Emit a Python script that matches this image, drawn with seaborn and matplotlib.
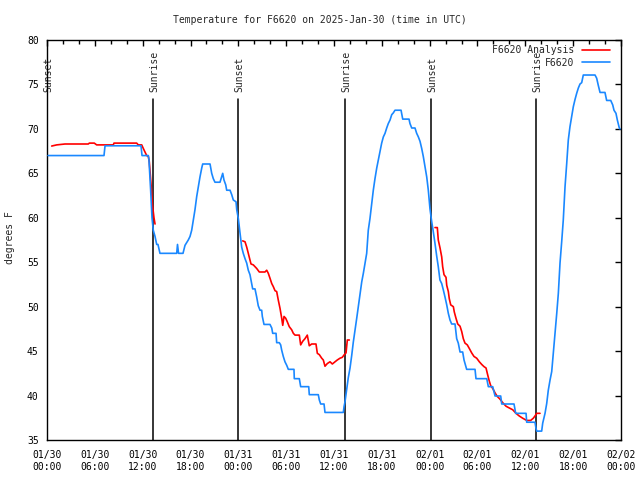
import numpy as np
import pandas as pd
import matplotlib
matplotlib.use("Agg")
import matplotlib.pyplot as plt
from matplotlib.lines import Line2D
from matplotlib.ticker import MultipleLocator
import seaborn as sns

# ---------------- data (hours since 2025-01-30 00:00 UTC, degrees F) ----------------
obs_hours = [0.13, 7.15, 7.28, 11.79, 11.92, 12.71, 12.79, 13.0, 13.17, 13.33, 13.55, 13.76,
             13.92, 14.17, 16.27, 16.37, 16.5, 17.06, 17.31, 17.72, 17.94, 18.15, 18.35, 18.56,
             18.78, 18.98, 19.19, 19.41, 19.53, 20.45, 20.66, 20.86, 21.07, 21.70, 21.91, 22.04,
             22.20, 22.42, 22.54, 22.96, 23.17, 23.37, 23.71, 23.80, 24.0, 24.21, 24.42, 24.62,
             24.84, 25.05, 25.25, 25.46, 25.68, 25.80, 26.09, 26.30, 26.50, 26.72, 26.93, 27.01,
             27.22, 27.97, 28.19, 28.31, 28.73, 28.81, 29.14, 29.31, 29.44, 29.64, 29.85, 30.07,
             30.27, 30.98, 31.02, 31.65, 31.82, 32.83, 32.90, 34.03, 34.16, 34.33, 34.75, 34.87,
             37.17, 37.26, 37.38, 37.59, 37.79, 38.01, 38.22, 38.42, 38.63, 38.85, 39.05, 39.26,
             39.48, 39.68, 39.89, 40.10, 40.30, 40.51, 40.73, 40.93, 41.14, 41.36, 41.56, 41.77,
             41.98, 42.19, 42.40, 42.61, 42.81, 43.03, 43.24, 43.44, 43.65, 44.41, 44.62, 45.41,
             45.53, 45.75, 46.16, 46.37, 46.58, 46.79, 47.00, 47.20, 47.42, 47.63, 47.83, 48.04,
             48.25, 48.46, 48.67, 48.88, 49.08, 49.29, 49.51, 49.71, 49.92, 50.14, 50.34, 50.55,
             50.76, 51.18, 51.39, 51.59, 51.81, 52.14, 52.31, 52.64, 53.69, 53.81, 55.16, 55.36,
             55.91, 56.07, 56.20, 56.91, 57.04, 58.58, 58.79, 60.09, 60.17, 61.21, 61.34, 61.43,
             62.05, 62.18, 62.47, 62.68, 62.88, 63.10, 63.31, 63.51, 63.72, 63.94, 64.14, 64.35,
             64.56, 64.76, 64.98, 65.19, 65.39, 65.60, 65.82, 66.02, 66.23, 66.44, 66.65, 66.86,
             67.07, 67.27, 68.74, 68.95, 69.15, 69.37, 69.99, 70.20, 70.71, 70.96, 71.12, 71.37,
             71.54, 71.79, 71.88]
obs_temps = [67.0, 67.0, 68.1, 68.1, 67.0, 67.0, 66.5, 63.1, 60.0, 58.6, 57.9, 57.0,
             57.0, 56.0, 56.0, 57.0, 56.0, 56.0, 56.9, 57.5, 57.9, 58.6, 59.75, 60.9,
             62.4, 63.5, 64.6, 65.6, 66.05, 66.05, 65.0, 64.4, 64.0, 64.0, 64.6, 65.0,
             64.25, 63.7, 63.1, 63.1, 62.6, 62.0, 61.8, 60.9, 59.9, 58.3, 56.7, 56.0,
             55.4, 54.9, 54.1, 53.6, 52.6, 52.0, 52.0, 51.1, 50.1, 49.6, 49.6, 48.9,
             48.0, 48.0, 47.6, 47.0, 47.0, 45.95, 45.95, 45.7, 45.1, 44.4, 43.8, 43.4,
             42.95, 42.95, 41.9, 41.9, 41.0, 41.0, 40.1, 40.1, 39.5, 39.05, 39.05, 38.1,
             38.1, 38.75, 39.3, 40.7, 42.0, 43.1, 44.5, 46.0, 47.3, 48.7, 50.0, 51.3,
             52.8, 53.75, 54.9, 56.0, 58.6, 59.9, 61.6, 63.1, 64.4, 65.6, 66.5, 67.4,
             68.4, 69.1, 69.5, 70.1, 70.6, 71.0, 71.6, 71.8, 72.1, 72.1, 71.1, 71.1,
             70.6, 70.1, 70.1, 69.5, 69.1, 68.6, 67.8, 66.9, 65.75, 64.6, 63.1, 61.0,
             59.6, 58.4, 57.1, 55.7, 54.5, 53.0, 52.6, 51.9, 51.1, 50.2, 49.25, 48.5,
             48.05, 48.05, 46.4, 45.9, 44.9, 44.9, 44.0, 42.95, 42.95, 41.9, 41.9, 41.0,
             41.0, 40.4, 39.95, 39.95, 39.05, 39.05, 38.0, 38.0, 37.0, 37.0, 36.3, 36.0,
             36.0, 36.9, 38.0, 39.1, 40.6, 41.75, 42.7, 44.75, 47.0, 49.25, 51.5, 54.9,
             57.3, 59.75, 63.5, 66.1, 68.75, 70.25, 71.4, 72.5, 73.3, 74.0, 74.6, 75.05,
             75.2, 76.06, 76.06, 75.7, 74.9, 74.1, 74.1, 73.2, 73.2, 72.7, 72.1, 71.75,
             71.0, 70.1, 70.0]

ana_hours = [0.59, 1.22, 2.26, 5.18, 5.31, 5.93, 6.23, 8.32, 8.40, 11.25, 11.45, 11.88,
             12.08, 12.29, 12.51, 12.71, 12.83, 13.13, 13.21, 13.42, 13.55,
             24.55, 24.84, 25.05, 25.25, 25.46, 25.59, 25.88, 26.30, 26.63, 27.34, 27.56, 27.76,
             27.97, 28.19, 28.39, 28.60, 28.81, 29.01, 29.23, 29.44, 29.57, 29.73, 29.94, 30.14,
             30.39, 30.69, 30.90, 31.11, 31.65, 31.82, 32.07, 32.36, 32.65, 32.90, 33.20, 33.74,
             33.91, 34.16, 34.46, 34.66, 34.87, 35.16, 35.50, 35.79, 36.13, 36.41, 36.75, 37.04,
             37.29, 37.51, 37.67, 37.92,
             48.67, 48.96, 49.08, 49.30, 49.51, 49.63, 49.80, 50.05, 50.14, 50.34, 50.46, 50.64,
             50.97, 51.09, 51.30, 51.52, 51.81, 52.02, 52.22, 52.43, 52.72, 52.97, 53.27, 53.56,
             53.90, 54.23, 54.53, 54.82, 55.07, 55.23, 55.44, 55.66, 55.91, 56.20, 56.48, 56.82,
             57.16, 57.58, 57.99, 58.42, 58.83, 59.24, 59.67, 60.17, 60.67, 61.0, 61.21, 61.43,
             61.84]
ana_temps = [68.07, 68.2, 68.3, 68.3, 68.4, 68.4, 68.2, 68.2, 68.4, 68.4, 68.2, 68.2,
             67.8, 67.4, 67.0, 66.9, 66.3, 62.9, 61.6, 60.0, 59.3,
             57.4, 57.3, 56.7, 56.0, 55.25, 54.8, 54.7, 54.3, 53.9, 53.9, 54.1, 53.75,
             53.2, 52.6, 52.25, 51.8, 51.7, 50.75, 49.8, 48.7, 47.9, 48.9, 48.7, 48.3,
             47.75, 47.4, 47.0, 46.8, 46.8, 45.7, 46.1, 46.4, 46.8, 45.6, 45.8, 45.8,
             44.75, 44.6, 44.2, 44.0, 43.3, 43.6, 43.8, 43.55, 43.8, 44.0, 44.2, 44.3,
             44.6, 44.8, 46.25, 46.25,
             58.9, 58.9, 57.5, 56.6, 55.6, 54.5, 53.6, 53.3, 52.4, 51.7, 50.9, 50.2,
             50.0, 49.4, 48.7, 48.05, 47.8, 47.2, 46.4, 45.9, 45.7, 45.3, 44.8, 44.4,
             44.2, 43.8, 43.5, 43.25, 43.1, 42.5, 41.75, 41.1, 40.8, 40.3, 39.9, 39.6,
             39.2, 38.8, 38.6, 38.4, 38.0, 37.7, 37.45, 37.2, 37.2, 37.45, 37.7, 38.0,
             38.0]
ana_segment = [1] * 21 + [2] * 52 + [3] * 49

sun_hours = [0.0, 13.33, 24.0, 37.42, 48.13, 61.38]
sun_labels = ["Sunset", "Sunrise", "Sunset", "Sunrise", "Sunset", "Sunrise"]

tick_hours = [0, 6, 12, 18, 24, 30, 36, 42, 48, 54, 60, 66, 72]
tick_labels = ["01/30\n00:00", "01/30\n06:00", "01/30\n12:00", "01/30\n18:00",
               "01/31\n00:00", "01/31\n06:00", "01/31\n12:00", "01/31\n18:00",
               "02/01\n00:00", "02/01\n06:00", "02/01\n12:00", "02/01\n18:00",
               "02/02\n00:00"]

title = "Temperature for F6620 on 2025-Jan-30 (time in UTC)"
ylabel = "degrees F"
obs_name = "F6620"
ana_name = "F6620 Analysis"

# ---------------- plot ----------------
sns.set_style("white")
plt.rcParams["font.family"] = ["DejaVu Sans Mono", "DejaVu Sans"]
plt.rcParams["font.size"] = 7

RED = "#ff0000"
BLUE = "#1a88ff"

fig = plt.figure(figsize=(6.4, 4.8), dpi=100)
ax = fig.add_axes([47 / 640, 40 / 480, 574 / 640, 400 / 480])

for h, lab in zip(sun_hours, sun_labels):
    ax.axvline(h, ymin=0, ymax=0.8525, color="black", lw=1.1, zorder=1)
    ax.text(h + 0.15, 0.871, lab, rotation=90, ha="center", va="bottom",
            transform=ax.get_xaxis_transform(), fontsize=7, zorder=1)

ana_df = pd.DataFrame({"hour": ana_hours, "temp": ana_temps, "seg": ana_segment})
obs_df = pd.DataFrame({"hour": obs_hours, "temp": obs_temps})

sns.lineplot(data=ana_df, x="hour", y="temp", units="seg", estimator=None,
             color=RED, lw=1.2, ax=ax, legend=False, zorder=2)
sns.lineplot(data=obs_df, x="hour", y="temp", estimator=None, sort=False,
             color=BLUE, lw=1.2, ax=ax, legend=False, zorder=3)

ax.set_xlim(0, 72)
ax.set_ylim(35, 80)
ax.set_xticks(tick_hours)
ax.set_xticklabels(tick_labels, linespacing=1.3)
ax.xaxis.set_minor_locator(MultipleLocator(2))
ax.set_yticks(np.arange(35, 81, 5))
ax.tick_params(axis="both", which="both", direction="in", top=True, right=True,
               length=4, width=1, colors="black", labelsize=7)
ax.tick_params(axis="x", which="major", pad=7)
ax.tick_params(axis="x", which="minor", length=3)
ax.tick_params(axis="y", which="major", pad=6)
for s in ax.spines.values():
    s.set_color("black")
    s.set_linewidth(1.0)
ax.set_xlabel("")
ax.set_ylabel("")
ax.grid(False)

fig.text(10 / 640, 1 - 238 / 480, ylabel, rotation=90, ha="center", va="center", fontsize=7)
fig.text(0.5, 1 - 20 / 480, title, ha="center", va="center", fontsize=7)

handles = [Line2D([], [], color=RED, lw=1.2), Line2D([], [], color=BLUE, lw=1.2)]
ax.legend(handles, [ana_name, obs_name], loc="upper right", bbox_to_anchor=(0.986, 0.995),
          frameon=False, markerfirst=False, fontsize=7, handlelength=2.9,
          handletextpad=0.8, labelspacing=0.28, borderaxespad=0.2, borderpad=0.1)

fig.savefig("out.png", dpi=100)
